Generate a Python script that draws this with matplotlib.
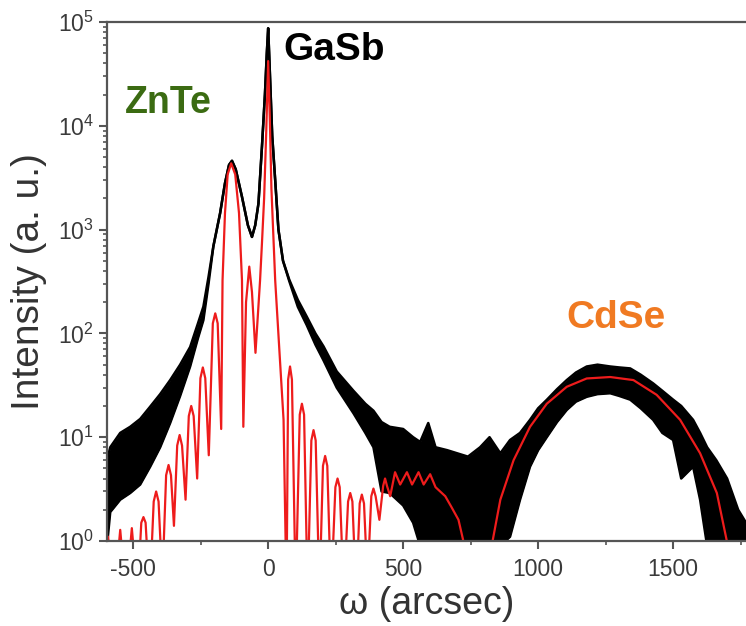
import numpy as np
import matplotlib
matplotlib.use("Agg")
import matplotlib.pyplot as plt
from matplotlib.ticker import FixedLocator, FuncFormatter, LogLocator, NullFormatter

plt.rcParams['font.family'] = ['Liberation Sans', 'DejaVu Sans']
plt.rcParams['axes.unicode_minus'] = False

# measured omega scan (noisy -> kept as lower / upper envelope of the counts)
omega_meas = [-597, -585, -548, -511, -474, -437, -400, -363, -326, -289, -260, -240,
              -221, -203, -178, -160, -145, -134, -120, -97, -75, -60, -48, -36, -23,
              -12, -5, 0, 5, 15, 26, 38, 55, 78, 110, 143, 175, 205, 254, 316, 360,
              390, 420, 450, 500, 537, 563, 593, 620, 663, 700, 740, 785, 820, 860,
              896, 933, 970, 1000, 1032, 1070, 1106, 1140, 1180, 1220, 1267, 1300,
              1341, 1380, 1426, 1460, 1500, 1530, 1574, 1600, 1626, 1660, 1700, 1741, 1770]
meas_low = [0.9, 1.9, 2.5, 2.9, 3.5, 5.2, 8, 13.7, 25, 48, 90, 134,
            300, 690, 1440, 2800, 4200, 4600, 3800, 2070, 1100, 850, 1100, 1780, 6300,
            20000, 50000, 87000, 40000, 8000, 3000, 1000, 500, 320, 180, 120, 78, 55, 30, 17, 11,
            8, 3, 2.9, 2.2, 1.5, 0.9, 1, 0.9, 0.9, 0.9, 0.9, 0.9, 0.9, 0.9,
            1.1, 2.5, 5.2, 7.5, 10, 14, 18.3, 22, 24.5, 26, 26.5, 25,
            23, 19, 14.7, 11, 9.4, 4, 5.2, 2.5, 0.9, 0.9, 0.9, 0.9, 0.9]
meas_high = [6, 8, 11, 12.6, 15, 19.7, 26, 35.5, 50, 74, 125, 181,
             350, 690, 1440, 2800, 4200, 4600, 3800, 2070, 1100, 850, 1100, 1780, 6300,
             20000, 50000, 87000, 40000, 8000, 3000, 1000, 500, 330, 210, 145, 100, 75, 43, 28, 21,
             18, 14, 12.6, 12, 10, 9, 13.7, 8, 7.5, 7, 6.5, 8, 10, 7,
             9.4, 11, 14.7, 19, 22.9, 29, 35.5, 42, 48, 50, 48, 47,
             46, 40, 33, 28, 23, 20, 14.7, 11, 8, 6, 4, 2, 1.5]

# simulated curve (thickness fringes: maxima, shoulders, minima)
omega_sim = [-600, -593, -570, -548, -527, -505, -484,
             -470, -462, -454, -439,
             -424, -415, -406, -392,
             -378, -369, -360, -349,
             -337, -328, -319, -306,
             -294, -285, -276, -263,
             -251, -242, -233, -220,
             -205, -196, -187, -174,
             -169, -160, -150, -137, -122, -108, -97, -92,
             -82, -70, -60, -47, -30, -23, -15, -7, 0, 6, 12, 26, 40, 57, 68,
             74, 81, 88, 102,
             117, 125, 133, 146,
             160, 168, 176, 190,
             203, 211, 219, 233,
             249, 257, 265, 280,
             296, 304, 312, 326,
             339, 347, 355, 368,
             382, 390, 398, 412,
             426, 433, 440, 452,
             470, 489, 514, 533, 557, 576, 600, 620, 656, 680, 705, 723,
             745, 810, 828, 860, 909, 970, 1032, 1106, 1180, 1267, 1353, 1439, 1526, 1600,
             1662, 1699, 1720]
int_sim = [0.6, 1.1, 0.3, 1.28, 0.3, 1.33, 0.3,
           1.5, 1.7, 1.5, 0.3,
           2.4, 3.0, 2.4, 0.4,
           4.3, 5.4, 4.3, 1.4,
           8.3, 10.5, 8.3, 2.5,
           16, 20, 16, 4.0,
           37, 47, 37, 6.7,
           125, 156, 125, 12,
           325, 1440, 3400, 4350, 3400, 1440, 325, 12.6,
           200, 440, 250, 65, 325, 740, 2000, 9000, 42000, 12000, 2500, 325, 80, 14.7, 0.3,
           36, 48, 36, 0.3,
           16.5, 21, 16.5, 0.3,
           9.3, 11.7, 9.3, 0.3,
           5.3, 6.6, 5.3, 0.3,
           3.3, 4.0, 3.3, 0.3,
           2.4, 2.9, 2.4, 0.3,
           2.3, 2.8, 2.3, 0.4,
           2.7, 3.2, 2.7, 1.6,
           3.4, 4.0, 3.4, 2.7,
           4.6, 3.5, 4.6, 3.5, 4.6, 3.5, 4.4, 3.3, 2.7, 2.1, 1.6, 1.0,
           0.5, 0.5, 0.9, 2.5, 6.0, 12.6, 21, 30.6, 36.8, 38, 35.5, 25.6, 14.7, 7.0,
           2.9, 1.0, 0.5]

fig = plt.figure(figsize=(7.46, 6.26), dpi=100)
ax = fig.add_axes([107 / 746, 85 / 626, 639 / 746, 519 / 626])

ax.fill_between(omega_meas, meas_low, meas_high, color='black', lw=0)
ax.plot(omega_meas, meas_low, color='black', lw=1.8)
ax.plot(omega_meas, meas_high, color='black', lw=1.8)
ax.plot(omega_sim, int_sim, color='#ee1c1c', lw=1.6)

ax.set_yscale('log')
ax.set_ylim(1, 1e5)
ax.set_xlim(-597, 1770)

ax.xaxis.set_major_locator(FixedLocator([-500, 0, 500, 1000, 1500]))
ax.xaxis.set_minor_locator(FixedLocator([-250, 250, 750, 1250, 1750]))
ax.yaxis.set_major_locator(LogLocator(base=10, numticks=10))
ax.yaxis.set_minor_locator(LogLocator(base=10, subs=range(2, 10), numticks=10))
ax.yaxis.set_major_formatter(FuncFormatter(lambda v, p: r'$\mathregular{10^{%d}}$' % round(np.log10(v))))
ax.yaxis.set_minor_formatter(NullFormatter())

ax.tick_params(which='major', direction='out', length=6, width=1.5, color='#555555',
               labelsize=16.5, labelcolor='#3a3a3a')
ax.tick_params(which='minor', direction='out', length=3, width=1.2, color='#555555')
ax.tick_params(axis='x', pad=6)

for side in ['left', 'bottom', 'top']:
    ax.spines[side].set_color('#555555')
    ax.spines[side].set_linewidth(1.6)
ax.spines['right'].set_visible(False)

ax.set_xlabel('ω (arcsec)', fontsize=27, color='#333333', labelpad=4)
ax.set_ylabel('Intensity (a. u.)', fontsize=28, color='#333333', labelpad=8)

ax.text(56, 5.4e4, 'GaSb', fontsize=28, fontweight='bold', color='black', va='center')
ax.text(-530, 1.66e4, 'ZnTe', fontsize=27, fontweight='bold', color='#3b6b12', va='center')
ax.text(1104, 141, 'CdSe', fontsize=28, fontweight='bold', color='#f07a22', va='center')

fig.savefig('out.png', dpi=100)
